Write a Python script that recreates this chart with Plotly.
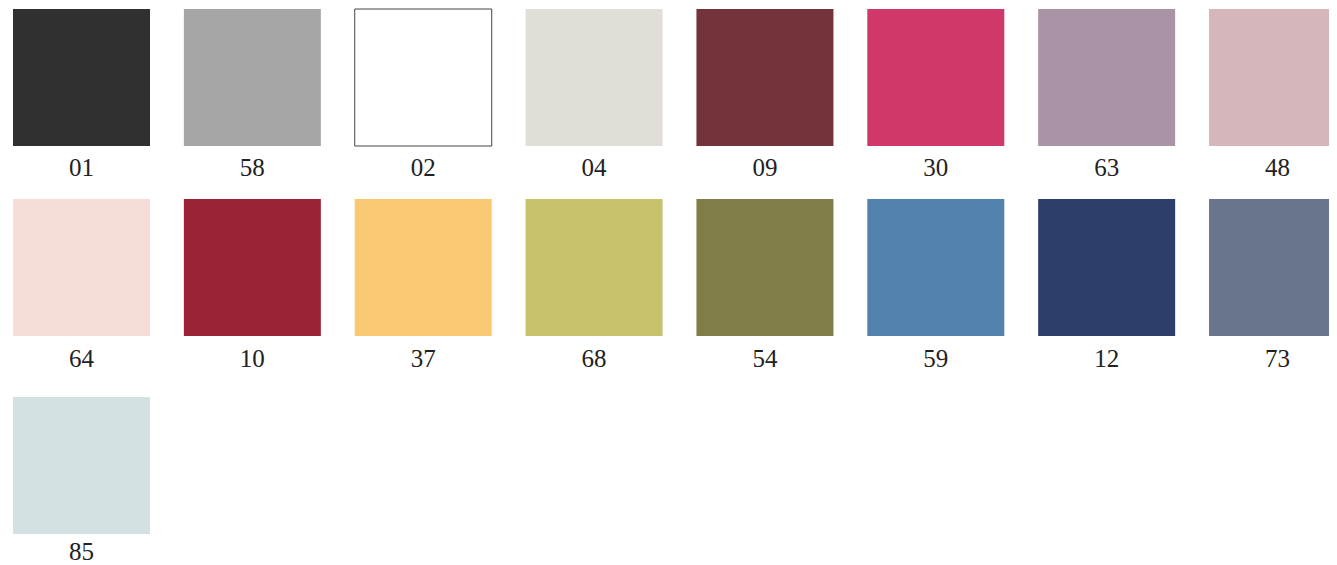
import plotly.graph_objects as go

codes = ["01", "58", "02", "04", "09", "30", "63", "48",
         "64", "10", "37", "68", "54", "59", "12", "73",
         "85"]
colors = ["#303030", "#a6a6a6", "#ffffff", "#e1ded7", "#74323b", "#d0386a", "#a993a5", "#d5b6bb",
          "#f6ddd7", "#9b2336", "#f9c872", "#c7c26c", "#7f7e48", "#5082ad", "#2e3e6a", "#69758d",
          "#d4e1e2"]

W, H = 1337, 565
PAGE_OFF = 8  # browser body margin
per_row = 8
col_x0 = 13
col_step = 170.86
sw = 137
row_tops = [9, 199, 397]
label_offsets = [161, 162, 157]

xs, bases, ys, lw, lc, lx, ly = [], [], [], [], [], [], []
for i, code in enumerate(codes):
    r, c = divmod(i, per_row)
    cx = col_x0 + sw / 2 + c * col_step
    xs.append(cx)
    bases.append(row_tops[r])
    ys.append(sw)
    if colors[i].lower() == "#ffffff":
        lw.append(1)
        lc.append("#444444")
    else:
        lw.append(0)
        lc.append(colors[i])
    lx.append(cx)
    ly.append(row_tops[r] + label_offsets[r])

fig = go.Figure()
fig.add_trace(go.Bar(
    x=xs, y=ys, base=bases, width=[sw] * len(xs),
    marker=dict(color=colors, line=dict(width=lw, color=lc)),
    hoverinfo="skip", showlegend=False,
))
fig.add_trace(go.Scatter(
    x=lx, y=ly, mode="text", text=codes,
    textfont=dict(family="Liberation Serif", size=25, color="#222222"),
    textposition="middle center", hoverinfo="skip", showlegend=False,
    cliponaxis=False,
))
fig.update_layout(
    width=W - PAGE_OFF, height=H - PAGE_OFF,
    margin=dict(l=0, r=0, t=0, b=0),
    paper_bgcolor="white", plot_bgcolor="white",
    xaxis=dict(range=[PAGE_OFF, W], visible=False, fixedrange=True),
    yaxis=dict(range=[H, PAGE_OFF], visible=False, fixedrange=True),
)
fig.write_html("out.html", config={"displayModeBar": False})
